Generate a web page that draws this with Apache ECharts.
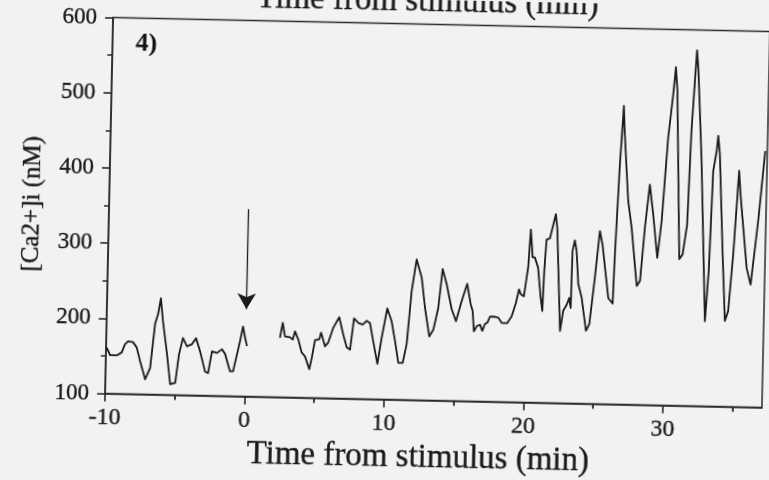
<!DOCTYPE html>
<html>
<head>
<meta charset="utf-8">
<script src="https://cdn.jsdelivr.net/npm/echarts@6/dist/echarts.min.js"></script>
<style>
  html, body { margin: 0; padding: 0; background: #f2f2f2; overflow: hidden; }
  /* the scanned panel sits slightly tilted on the page */
  #chart { width: 769px; height: 480px; transform: rotate(1.22deg); transform-origin: 437.5px 212.4px; }
</style>
</head>
<body>
<div id="chart"></div>
<script>
// Calcium trace before the stimulus (min, nM)
const preTime = [-9.95, -9.7, -9.22, -8.87, -8.65, -8.43, -8.07, -7.8, -7.54, -7.15, -6.81, -6.52, -6.32, -6.14, -5.96, -5.62, -5.35, -4.99, -4.76, -4.5, -4.2, -3.84, -3.56, -3.26, -2.87, -2.65, -2.4, -2.04, -1.69, -1.46, -1.08, -0.86, -0.6, -0.41, -0.21, -0.05, 0.1];
const preCa = [161, 151, 151, 155, 166, 170, 169, 162, 144, 120, 135, 194, 207, 228, 198, 154, 114, 116, 154, 176, 165, 168, 176, 159, 132, 130, 159, 157, 162, 156, 133, 133, 156, 173, 193, 178, 167];

// Calcium trace after the stimulus (min, nM)
const postTime = [2.45, 2.63, 2.81, 3.17, 3.37, 3.52, 3.77, 4.03, 4.27, 4.6, 4.76, 4.97, 5.27, 5.39, 5.69, 5.92, 6.26, 6.67, 6.98, 7.25, 7.49, 7.73, 8.05, 8.36, 8.64, 8.88, 9.14, 9.47, 9.74, 10.1, 10.43, 10.7, 10.97, 11.28, 11.54, 11.82, 12.13, 12.52, 12.8, 13.15, 13.43, 13.75, 14.01, 14.32, 14.71, 15.04, 15.42, 15.79, 16.07, 16.22, 16.34, 16.53, 16.77, 16.94, 17.12, 17.29, 17.47, 17.83, 18.06, 18.32, 18.72, 19.02, 19.31, 19.51, 19.64, 19.87, 20.14, 20.27, 20.44, 20.6, 20.85, 21.07, 21.21, 21.29, 21.41, 21.65, 21.77, 22.04, 22.16, 22.51, 22.71, 22.95, 23.12, 23.24, 23.29, 23.44, 23.58, 23.75, 24.01, 24.37, 24.6, 24.93, 25.22, 25.43, 25.92, 26.24, 26.33, 26.55, 26.75, 26.84, 27.2, 27.49, 27.94, 28.17, 28.44, 28.73, 29.01, 29.37, 29.63, 29.97, 30.27, 30.42, 30.56, 30.95, 31.18, 31.46, 31.63, 31.8, 31.91, 32.04, 32.4, 32.88, 33.08, 33.25, 33.47, 33.56, 33.7, 34.05, 34.31, 34.53, 34.81, 35.11, 35.24, 35.79, 36.1, 36.55, 36.95];
const postCa = [179, 199, 181, 180, 177, 188, 177, 160, 155, 138, 153, 177, 178, 187, 169, 174, 194, 208, 185, 168, 165, 207, 201, 199, 204, 201, 177, 147, 182, 221, 204, 178, 149, 149, 174, 245, 287, 263, 223, 185, 194, 223, 275, 255, 222, 206, 233, 256, 229, 220, 193, 200, 202, 194, 203, 205, 213, 213, 212, 205, 205, 214, 232, 250, 244, 241, 281, 330, 293, 293, 279, 240, 222, 275, 317, 319, 320, 351, 333, 196, 223, 231, 240, 227, 303, 317, 303, 259, 241, 197, 206, 268, 330, 312, 241, 234, 299, 419, 497, 464, 371, 335, 258, 265, 336, 393, 354, 296, 345, 456, 514, 550, 519, 295, 301, 341, 466, 532, 573, 546, 426, 213, 280, 413, 440, 460, 436, 303, 214, 227, 303, 414, 383, 285, 263, 348, 441];

// Axis ticks
const xMajorTicks = [-10, 0, 10, 20, 30];
const xMinorTicks = [-5, 5, 15, 25, 35];
const yTicks = [100, 200, 300, 400, 500, 600];

// Stimulus arrow: time and its top / tip levels (nM)
const stimulusTime = 0;
const arrowTop = 349;
const arrowTip = 216;

const xMin = -10, xMax = 37.1;

const ink = '#1a1a1a';
const axisInk = '#2a2a2a';
const serif = '"Liberation Serif", "Times New Roman", serif';

// printed text is slightly heavier than the plain face
const heavy = { textBorderColor: ink, textBorderWidth: 0.35 };

const chart = echarts.init(document.getElementById('chart'), null, { renderer: 'canvas' });

const lineStyle = { color: ink, width: 1.8, join: 'round' };

chart.setOption({
  backgroundColor: '#f2f2f2',
  animation: false,
  grid: {
    left: 109, top: 24.5, width: 657, height: 376,
    show: true, borderColor: axisInk, borderWidth: 1.5, backgroundColor: 'transparent'
  },
  xAxis: [
    {
      type: 'value', min: xMin, max: xMax,
      axisLine: { show: true, onZero: false, lineStyle: { color: axisInk, width: 1.6 } },
      axisTick: { show: true, customValues: xMajorTicks, length: 8, lineStyle: { color: axisInk, width: 1.6 } },
      axisLabel: Object.assign({ customValues: xMajorTicks, fontFamily: serif, fontSize: 24, color: ink, margin: 12 }, heavy),
      splitLine: { show: false },
      name: 'Time from stimulus (min)',
      nameLocation: 'middle', nameGap: 39,
      nameTextStyle: Object.assign({ fontFamily: serif, fontSize: 33, color: ink, padding: [0, 29, 0, 0] }, heavy)
    },
    {
      type: 'value', min: xMin, max: xMax, position: 'bottom',
      axisLine: { show: false, onZero: false },
      axisTick: { show: true, customValues: xMinorTicks, length: 5, lineStyle: { color: axisInk, width: 1.8 } },
      axisLabel: { show: false },
      splitLine: { show: false }
    }
  ],
  yAxis: {
    type: 'value', min: yTicks[0], max: yTicks[yTicks.length - 1], interval: 100,
    axisLine: { show: true, onZero: false, lineStyle: { color: axisInk, width: 1.6 } },
    axisTick: { show: true, length: 8, lineStyle: { color: axisInk, width: 1.6 } },
    minorTick: { show: true, splitNumber: 2, length: 5, lineStyle: { color: axisInk, width: 1.5 } },
    axisLabel: Object.assign({ fontFamily: serif, fontSize: 23, color: ink, margin: 16 }, heavy),
    splitLine: { show: false },
    name: '[Ca2+]i (nM)',
    nameLocation: 'middle', nameGap: 64,
    nameTextStyle: Object.assign({ fontFamily: serif, fontSize: 25, color: ink }, heavy)
  },
  graphic: [
    {
      type: 'text', x: 132, y: 37,
      style: { text: '4)', font: 'bold 26px ' + serif, fill: '#111', align: 'left', verticalAlign: 'top' }
    },
    {
      type: 'text', x: 423, y: 19,
      style: { text: 'Time from stimulus (min)', font: '33px ' + serif, fill: ink, align: 'center', verticalAlign: 'bottom', stroke: ink, lineWidth: 0.35 }
    }
  ],
  series: [
    {
      type: 'line', xAxisIndex: 0, showSymbol: false, lineStyle,
      data: preTime.map((t, i) => [t, preCa[i]]),
      markLine: {
        silent: true,
        symbol: ['none', 'arrow'],
        symbolSize: [14, 16],
        lineStyle: { color: ink, width: 1.3, type: 'solid' },
        label: { show: false },
        data: [[{ coord: [stimulusTime, arrowTop] }, { coord: [stimulusTime, arrowTip] }]]
      }
    },
    {
      type: 'line', xAxisIndex: 0, showSymbol: false, lineStyle,
      data: postTime.map((t, i) => [t, postCa[i]])
    }
  ]
});
</script>
</body>
</html>
